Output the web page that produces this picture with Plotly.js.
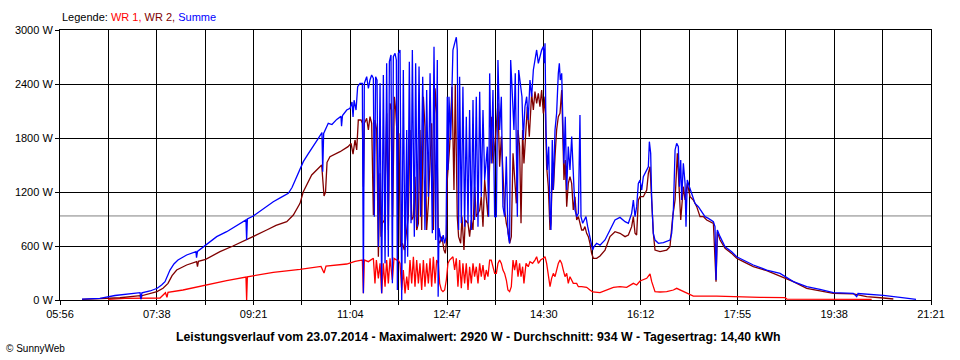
<!DOCTYPE html>
<html>
<head>
<meta charset="utf-8">
<script src="https://cdn.plot.ly/plotly-3.0.1.min.js"></script>
<style>
  html, body { margin: 0; padding: 0; background: #ffffff; }
  #chart { width: 960px; height: 360px; }
</style>
</head>
<body>
<div id="chart"></div>
<script>
// Time is given in minutes after midnight, power in watts.
const dayStart = 356;   // 05:56
const dayEnd = 1281;    // 21:21
const xLabels = ['05:56', '07:38', '09:21', '11:04', '12:47', '14:30', '16:12', '17:55', '19:38', '21:21'];
const yLabels = [0, 600, 1200, 1800, 2400, 3000];
const average = 934;

const seriesNames = ['WR 1', 'WR 2', 'Summe'];

// WR 1 (red)
const wr1 = [
[407,8],[425,18],[462.2,22],[465.4,60],[468,81],[469.6,30],[470.7,85],[486.6,111],[510.7,167],[533,215],[553.5,255],[554.2,0],[555,258],[582.5,307],[610.9,341],[633.2,373],[636.4,300],[638.5,378],[660.5,400],[669.3,430],[676.4,444],
[677.1,444],[678.2,74],[679.2,444],[683.5,426],[688.8,463],[690.5,185],[692,444],[694.1,241],[695.9,407],[697.6,74],[699.4,407],[701.2,148],[702.9,444],[704.7,185],[706.5,463],[709,222],[710.7,463],[713.6,444],[715.3,444],[717.1,407],[718.9,111],[720.6,333],[722.4,74],[724.2,259],[725.9,111],[727.7,444],[729.5,185],[731.3,481],[733,148],[734.8,444],[736.6,185],[738.3,407],[740.1,111],[741.9,444],[743.6,148],[745.4,407],[747.2,185],[749,463],[750.7,148],[752.5,481],[754.3,185],[756,444],[757.8,407],
[759.2,185],[761,111],[762.7,93],[764.5,111],[766.3,222],[768,407],[769.8,444],[771.6,463],[773.3,481],[775.1,333],[776.9,463],[778.6,148],[780.4,444],[782.2,130],[783.9,407],[785.7,185],[787.5,407],[789.3,111],[791,370],[792.8,185],[794.6,407],[796.3,259],[798.1,370],[799.9,185],[801.7,407],[803.4,259],[805.2,389],[807,222],[808.7,333],[810.5,259],[812.3,444],[814,444],[815.8,370],[817.6,296],[819.4,296],[821.1,407],[822.9,444],[824.7,407],[826.4,333],[828.2,296],[830,222],[831.7,111],[833.5,93],[835.3,148],[837.1,444],[838.8,333],[840.6,444],[842.4,259],[844.1,407],
[845.6,259],[847.3,370],[848.7,185],[850.9,407],[853.3,370],[855.1,426],[857.9,407],[860.4,444],[862.2,481],[864,407],[866.4,444],[869.3,463],[871.1,481],[872.8,407],[874.6,259],[876.4,148],[878.1,241],[879.9,296],[881.7,259],[883.4,333],[885.2,407],[887,444],[888.8,407],[890.5,333],[892.3,259],[894.1,296],[895.8,185],[897.6,259],[899.4,222],[901.1,185],[904.7,185],[906.5,148],[910,148],[915.3,141],[918.8,111],[921.7,89],[929.5,81],
[936.6,111],[943.7,141],[950.7,148],[957.8,141],[964.9,185],[968.4,167],[972,211],[979.1,241],[982.6,289],[984.4,204],[987.9,93],[993.2,89],[1000.3,93],[1007.4,111],[1010.9,130],[1016.2,104],[1021.5,74],[1028.6,44],[1053.4,44],[1071.1,37],[1099.4,30],[1126,26],[1128,10],[1218,8]
];

// WR 2 (dark red)
const wr2 = [
[379.4,8],[398.5,15],[419.7,25],[441,48],[442,10],[443,48],[459,93],[465.4,130],[470.7,185],[475,270],[479.9,333],[490.5,389],[501.1,426],[502,370],[503,430],[510.7,452],[525.9,537],[539.7,600],[554.3,667],[564.2,720],[575.5,778],[585.4,830],[596.8,870],[603.8,944],[610.9,1074],[614.4,1204],[623.3,1389],[630,1460],[633.9,1500],[636.4,1156],[638,1200],[639.6,1530],[642.7,1593],[653.4,1648],[658.7,1680],[661.9,1704],[665.1,1740],[667.2,1620],
[669.3,1778],[671.1,1667],[672.8,2000],[675.7,2000],[677.1,1963],[678.2,1259],[679.2,1963],[681.7,2018],[683.5,1889],[685.2,2037],[687,1963],[688.8,944],[690.5,2000],[692.3,1889],[694.1,481],[695.9,1407],[696.9,704],[698.3,852],[700.5,889],[702.9,2074],[704.7,778],[706.5,2185],[708.2,2111],[709.3,926],[711.1,2259],[712.5,2111],[714.3,1778],[716,1852],[717.4,593],[719.6,630],[721.7,556],[724.2,778],[725.9,926],[727.7,1889],[729.5,889],[731.3,926],[733,1370],[734.8,778],[736.6,852],[738.3,1889],[740.1,778],[741.9,2259],[743.6,1926],[745.4,778],[747.2,1074],[750.7,1963],[752.5,778],[754.3,2352],[756,2074],[757.8,667],
[759.2,630],[761.6,704],[763.8,556],[765.2,518],[766.3,630],[767.3,1333],[769.8,1704],[772.3,2370],[774.4,1222],[775.8,2389],[777.9,926],[779.3,704],[781.5,630],[782.9,926],[785,556],[786.4,889],[789.3,852],[791,704],[792.8,889],[794.6,778],[796.3,1259],[798.1,926],[799.9,963],[801.7,1000],[803.4,1148],[805.2,815],[807,1333],[810.5,926],[812.3,1518],[814,2037],[815.8,1518],[818.3,1778],[821.1,2185],[822.9,1481],[824.7,1815],[826.4,1407],[828.2,1000],[830,852],[831.7,778],[833.5,630],[835.3,704],[837.1,1630],[838.8,1370],[840.6,1074],[842.4,1889],[844.1,1704],
[845.6,852],[847.3,1889],[848.7,1518],[850.9,1963],[852.3,2148],[854.4,1815],[856.9,2296],[858.7,2111],[860.4,2315],[862.2,2185],[864,2296],[865.7,2148],[867.5,2333],[869.3,2074],[871.1,2259],[872.8,1481],[874.6,1259],[876.4,778],[877.4,852],[878.8,1407],[879.9,1222],[881.7,1593],[883.4,1889],[885.2,2037],[887,2074],[888.8,2333],[889.8,1815],[891.2,1333],[892.6,1556],[894.1,1037],[895.8,1296],[897.6,1370],[899.4,1296],[901.1,1000],[902.9,1148],[904.7,889],[906.5,926],[908.2,852],[910,778],[911.8,778],[913.5,815],[915.3,741],[917.1,704],[918.8,630],[920.6,518],[922.4,463],[925.9,463],
[929.5,489],[934.8,555],[940.1,704],[945.4,759],[950.7,741],[956.1,704],[959.6,722],[963.1,815],[964.9,926],[966.7,741],[968.4,722],[970.2,1111],[972,1148],[975.5,1148],[979.1,1222],[980.8,1407],[982.6,1481],[984.4,1037],[986.1,741],[987.9,555],[993.2,537],[1000.3,555],[1003.8,592],[1006.7,926],[1009.2,1111],[1011.6,1630],[1013.8,1111],[1015.2,889],[1018,1259],[1019.8,1111],[1022.2,1296],[1025.1,1148],[1028.6,1111],[1032.2,1037],[1035.7,926],[1039.2,926],[1042.8,889],[1049.9,852],[1052.7,204],[1054.1,759],[1057,666],[1062.3,574],[1069.3,518],[1074.6,463],[1081.7,426],[1092.3,370],[1106.5,326],[1120.7,266],[1134.8,204],[1149,130],[1163.1,104],[1177.3,74],[1198.5,67],[1212.7,37],[1230.4,22],[1241,11]
];

// Summe (blue)
const summe = [
[379.4,10],[387.9,15],[398.5,19],[414.4,50],[425,65],[438.8,78],[441,81],[442,10],[443,80],[451.6,100],[459.3,130],[464.2,170],[467.5,204],[472.8,333],[477,400],[481.3,444],[490.5,500],[500.4,537],[501,470],[502,540],[510.7,611],[522.4,704],[533,759],[542.9,820],[553.5,890],[554.2,667],[555,900],[561.3,933],[571.6,1010],[582.5,1092],[590.7,1140],[598.5,1185],[602.4,1250],[607.4,1370],[610.9,1460],[614.4,1537],[619.4,1620],[625,1704],[630,1790],[634.2,1860],[635,1426],[636,1850],[640.9,1963],[644.8,1950],[649.9,2007],[654.4,2040],[655,1930],[656,2050],[660.5,2111],[664,2130],[666.1,2200],[667.2,2033],[668.3,2220],
[670.4,2111],[672.1,2370],[674.6,2407],[677.1,2407],[678.2,74],[679.2,2407],[681.7,2481],[683.5,2352],[685.2,2444],[687,2500],[688.8,2463],[689.8,926],[691.2,2481],[692.7,2444],[694.1,593],[695.9,2407],[697.6,74],[699.4,2500],[701.2,407],[702.9,2630],[704.7,481],[705.8,2648],[707.5,2722],[709,185],[710,2704],[711.8,2741],[713.2,2667],[714.3,111],[715.3,2741],[717.1,2778],[718.9,0],[720.6,2556],[722.4,407],[724.2,1889],[725.2,481],[727,2648],[728.8,852],[730.2,2778],[732.3,704],[733.7,2630],[735.5,815],[737.3,2593],[739,926],[741.2,2481],[743.6,778],[745.4,2333],[747.2,1148],[749,2518],[751.4,741],[753.2,2815],[755,667],[756.7,2667],[757.6,37],
[758.5,800],[760,700],[761.5,650],[763,720],[764.5,630],[766,700],[767.3,2259],[768,1444],[769.1,2259],[770.9,1778],[772.3,2518],[773.3,2778],[775.1,2852],[776.9,2920],[777.9,2778],[779.3,778],[780.4,2481],[782.2,852],[783.9,2370],[785.7,815],[787.5,2037],[789.3,852],[791,2111],[792.8,778],[794.6,2222],[796.3,889],[798.1,2259],[799.9,815],[801.7,2315],[803.4,1148],[805.2,2111],[807,1333],[809.8,1704],[811.2,926],[812.3,2518],[814,1518],[815.8,2333],[817.6,926],[819.4,926],[821.1,2667],[822.9,1889],[824.7,2259],[826.4,1037],[828.2,926],[830,1593],[831.7,741],[833.5,630],[834.6,2667],[836,2370],[838.1,1889],[839.5,2518],[841.7,926],[843.1,2556],
[846.6,2259],[848,1778],[849.8,2148],[851.6,2259],[853.3,2000],[855.1,2444],[856.9,2259],[858.7,2556],[860.4,2667],[862.2,2778],[864,2630],[865.7,2704],[867.5,2778],[869.3,2815],[870.3,2630],[871.1,2852],[872.1,1889],[873.5,1444],[875,1704],[876.4,926],[877.4,778],[878.8,1778],[879.9,1222],[881.7,1889],[883.4,2074],[885.2,2518],[886.3,2630],[887.3,2444],[888.8,2518],[889.8,2074],[891.2,1518],[892.6,2037],[894.1,1222],[895.8,1704],[897.6,1444],[899.4,1815],[901.1,1333],[902.9,1000],[904.7,926],[906.5,963],[908.2,2055],[909.3,926],[911.1,852],[912.8,889],[914.6,926],[916.4,815],[918.1,741],[919.5,667],[921.7,556],[923.1,593],[925.9,630],
[929.5,610],[934.8,667],[940.1,778],[945.4,889],[950.7,918],[956.1,870],[959.6,852],[963.1,963],[964.9,1111],[966.7,926],[968.4,1037],[970.2,1296],[972,1333],[973.8,1222],[975.5,1370],[979.1,1444],[980.8,1481],[981.9,1759],[983.3,1630],[984.4,1111],[986.1,741],[987.9,666],[991.5,630],[996.8,637],[1000.3,648],[1003.8,666],[1005.6,741],[1007.4,1000],[1009.2,1667],[1010.9,1741],[1012.7,1704],[1013.8,1259],[1015.2,1555],[1016.2,1111],[1018,1518],[1019.8,1296],[1020.8,815],[1022.2,1333],[1024.4,1259],[1026.8,1185],[1030.4,1074],[1033.9,1037],[1037.5,981],[1041,926],[1044.6,907],[1049.9,870],[1051.6,815],[1052.7,222],[1054.1,778],[1057,704],[1062.3,592],[1069.3,537],[1074.6,481],[1081.7,444],[1092.3,389],[1106.5,333],[1120.7,296],[1134.8,204],[1149,148],[1163.1,118],[1177.3,81],[1198.5,74],[1202.1,37],[1203.5,72],[1212.7,67],[1230.4,52],[1248.1,30],[1264,11],[1265.1,8]
];

const colors = ['#ff0000', '#800000', '#0000ff'];
const FONT = 'Liberation Sans, Arial, sans-serif';

function mk(points, name, color) {
  return {
    type: 'scatter', mode: 'lines', name: name,
    x: points.map(p => p[0]), y: points.map(p => p[1]),
    line: { color: color, width: 1.3, shape: 'linear' },
    hoverinfo: 'skip'
  };
}

const traces = [
  mk(wr1, seriesNames[0], colors[0]),
  mk(wr2, seriesNames[1], colors[1]),
  mk(summe, seriesNames[2], colors[2])
];

// gridlines every half label step, labels on every other line
const nSteps = (xLabels.length - 1) * 2;
const step = (dayEnd - dayStart) / nSteps;
const tickVals = [], tickText = [];
for (let i = 0; i <= nSteps; i++) {
  tickVals.push(dayStart + i * step);
  tickText.push(i % 2 === 0 ? xLabels[i / 2] : '');
}

const legendText = 'Legende: ' +
  '<span style="color:' + colors[0] + '">' + seriesNames[0] + ',</span> ' +
  '<span style="color:' + colors[1] + '">' + seriesNames[1] + ',</span> ' +
  '<span style="color:' + colors[2] + '">' + seriesNames[2] + '</span>';

const layout = {
  width: 960, height: 360,
  margin: { l: 60, r: 29, t: 30, b: 60 },
  paper_bgcolor: '#ffffff', plot_bgcolor: '#ffffff',
  showlegend: false,
  font: { family: FONT, size: 11, color: '#000000' },
  xaxis: {
    range: [dayStart, dayEnd],
    tickmode: 'array', tickvals: tickVals, ticktext: tickText,
    showgrid: true, gridcolor: '#000000', gridwidth: 1,
    ticks: 'outside', ticklen: 4, tickcolor: '#000000',
    showline: true, linecolor: '#000000', mirror: true,
    zeroline: false,
    tickfont: { family: FONT, size: 11, color: '#000000' }
  },
  yaxis: {
    range: [0, 3000],
    tickmode: 'array', tickvals: yLabels, ticktext: yLabels.map(v => v + ' W'),
    showgrid: true, gridcolor: '#000000', gridwidth: 1,
    ticks: 'outside', ticklen: 4, tickcolor: '#000000',
    showline: true, linecolor: '#000000', mirror: true,
    zeroline: false,
    tickfont: { family: FONT, size: 11, color: '#000000' }
  },
  shapes: [{
    type: 'line', xref: 'paper', x0: 0, x1: 1, yref: 'y', y0: average, y1: average,
    line: { color: '#808080', width: 1 }, layer: 'below'
  }],
  annotations: [
    { xref: 'paper', yref: 'paper', x: 0, y: 1.048, xanchor: 'left', yanchor: 'middle',
      showarrow: false, text: legendText, font: { family: FONT, size: 11, color: '#000000' } },
    { xref: 'paper', yref: 'paper', x: 0.48, y: -0.137, xanchor: 'center', yanchor: 'middle',
      showarrow: false,
      text: '<b>Leistungsverlauf vom 23.07.2014 - Maximalwert: 2920 W - Durchschnitt: ' + average + ' W - Tagesertrag: 14,40 kWh</b>',
      font: { family: FONT, size: 12.3, color: '#000000' } },
    { xref: 'paper', yref: 'paper', x: -0.064, y: -0.178, xanchor: 'left', yanchor: 'middle',
      showarrow: false, text: '© SunnyWeb', font: { family: FONT, size: 10, color: '#000000' } }
  ]
};

Plotly.newPlot('chart', traces, layout, { displayModeBar: false, staticPlot: true });
</script>
</body>
</html>
